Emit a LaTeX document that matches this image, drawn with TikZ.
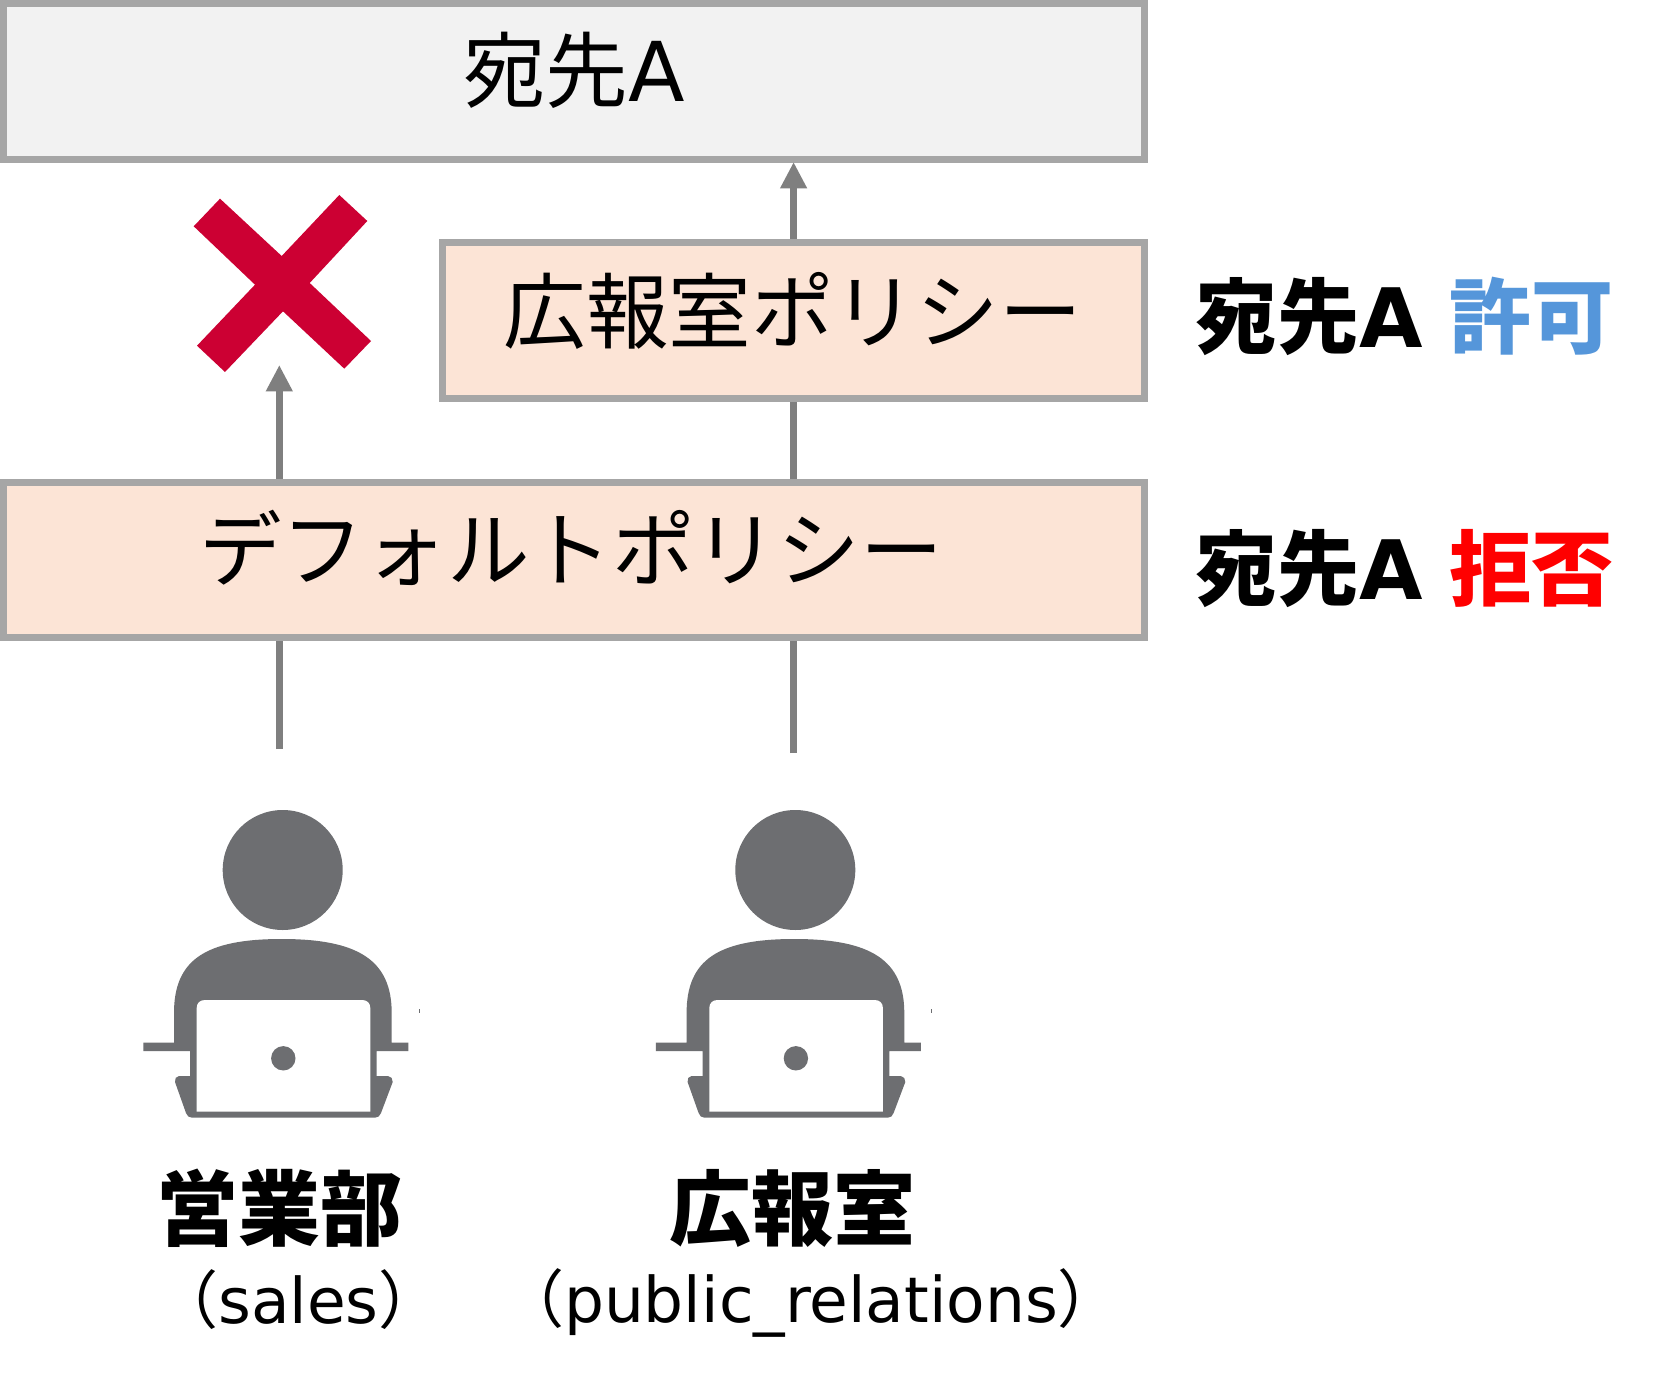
\documentclass[tikz,border=0pt]{standalone}
\usepackage{fontspec}
\setmainfont{DejaVu Sans}
\newfontfamily\jp{Noto Sans CJK JP}
\definecolor{bordergray}{HTML}{A6A6A6}
\definecolor{arrowgray}{HTML}{7F7F7F}
\definecolor{peach}{HTML}{FCE4D6}
\definecolor{pale}{HTML}{F2F2F2}
\definecolor{icongray}{HTML}{6D6E71}
\definecolor{crossred}{HTML}{CC0033}
\definecolor{allowblue}{HTML}{5596DA}
\usetikzlibrary{arrows.meta}
\tikzset{
  policybox/.style={draw=bordergray,line width=3.5pt,fill=peach,inner sep=0pt},
  plainlabel/.style={inner sep=0pt,font=\fontsize{41.3}{41.3}\selectfont\jp},
  boldlabel/.style={inner sep=0pt,font=\fontsize{41}{41}\selectfont\bfseries\jp},
  conn/.style={draw=arrowgray,line width=3.5pt},
  connarrow/.style={conn,-{Triangle[length=13.2pt,width=12.6pt]}},
  subl/.style={inner sep=0pt,font=\fontsize{31.5}{31.5}\selectfont},
}
\newcommand{\person}[1]{%
\begin{scope}[shift={(#1,0)}]
\fill[icongray] (282.7,870) circle[radius=30pt];
\fill[icongray] (174,1013) .. controls (174,960) and (205,939) .. (281.7,939)
 .. controls (358,939) and (391.7,960) .. (391.7,1013)
 -- (391.7,1042.7) -- (408.3,1042.7) -- (408.3,1051) -- (376.7,1051) -- (376.7,1076) -- (388,1076)
 .. controls (391,1076) and (393,1079) .. (392.7,1082) -- (381,1113)
 .. controls (380,1116) and (378,1117.7) .. (375,1117.7) -- (192,1117.7)
 .. controls (189,1117.7) and (187,1116) .. (186,1113) -- (175,1082)
 .. controls (174.5,1079) and (176,1076) .. (179,1076)
 -- (190,1076) -- (190,1051) -- (143.3,1051) -- (143.3,1042.7) -- (174,1042.7) -- cycle;
\fill[white] (196.7,1111.7) -- (196.7,1008) .. controls (196.7,1003) and (200,1000) .. (205,1000)
 -- (362,1000) .. controls (367,1000) and (370.3,1003) .. (370.3,1008) -- (370.3,1111.7) -- cycle;
\fill[icongray] (283.3,1058.3) circle[radius=6.1pt];
\fill[icongray] (418.5,1009) rectangle (419.8,1013);
\end{scope}}
\begin{document}
\begin{tikzpicture}[x=0.5pt,y=-0.5pt]
\useasboundingbox (0,0) rectangle (1664,1385);
\fill[white] (0,0) rectangle (1664,1385);
\coordinate (leftStart) at (279.3,749);
\coordinate (rightStart) at (793.6,753);
\coordinate (leftTip) at (279.3,365);
\coordinate (rightTip) at (793.6,162);
% boxes
\node[draw=bordergray,line width=3.5pt,fill=pale,inner sep=0pt,minimum width=570.5pt,minimum height=78pt,anchor=north west] (dest) at (0,0) {};
\node[policybox,minimum width=351pt,minimum height=78pt,anchor=north west] (prpol) at (439,239) {};
\node[policybox,minimum width=570.5pt,minimum height=77.5pt,anchor=north west] (defpol) at (0,479) {};
% connectors
\draw[conn] (leftStart) -- (leftStart |- defpol.south);
\draw[conn] (rightStart) -- (rightStart |- defpol.south);
\draw[connarrow] (leftTip |- defpol.north) -- (leftTip);
\draw[conn] (rightTip |- defpol.north) -- (rightTip |- prpol.south);
\draw[connarrow] (rightTip |- prpol.north) -- (rightTip);
% labels
\node[plainlabel] (destlabel) at (574,70) {宛先{\rmfamily A}};
\node[plainlabel] (prlabel) at (792.5,311) {広報室ポリシー};
\node[plainlabel] (deflabel) at (571,548) {デフォルトポリシー};
\node[boldlabel,anchor=west] (allowlabel) at (1195,316) {宛先{\rmfamily\bfseries A}\hspace{13.5pt}\textcolor{allowblue}{許可}};
\node[boldlabel,anchor=west] (denylabel) at (1195,569) {宛先{\rmfamily\bfseries A}\hspace{13.5pt}\textcolor{red}{拒否}};
% cross
\fill[crossred] (220,198.7) -- (281.7,256) -- (339.3,195) -- (367.3,221) -- (309.7,283) -- (371,341) -- (344.3,368.7) -- (283,311.3) -- (225,372) -- (197,345.7) -- (255,284.7) -- (193.7,226.3) -- cycle;
% persons
\person{0}
\person{512.6}
\node[boldlabel] (salesj) at (279.5,1208) {営業部};
\node[boldlabel] (prj) at (792,1208) {広報室};
\node[subl] (salese) at (298.5,1300) {{\jp（}sales{\jp ）}};
\node[subl] (pre) at (811,1303) {{\jp（}public\_relations{\jp ）}};
\end{tikzpicture}
\end{document}
